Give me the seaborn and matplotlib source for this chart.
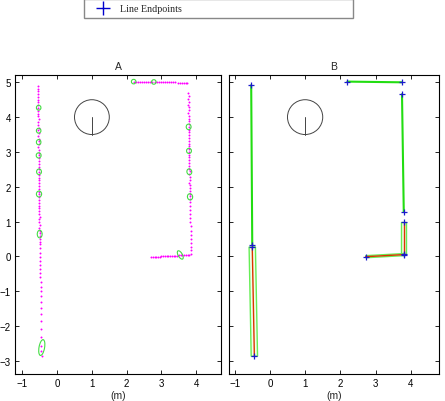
import numpy as np
import pandas as pd
import seaborn as sns
import matplotlib.pyplot as plt
from matplotlib.lines import Line2D
from matplotlib.patches import Ellipse, Circle, Polygon

# raw laser points, panel A (left wall, right wall, top wall, bottom wall)
left_y = [4.90, 4.82, 4.74, 4.66, 4.58, 4.50, 4.42, 4.34, 4.26, 4.18,
          4.10, 4.02, 3.94, 3.86, 3.78, 3.70, 3.62, 3.54, 3.46, 3.38,
          3.30, 3.22, 3.14, 3.06, 2.98, 2.90, 2.82, 2.74, 2.66, 2.58,
          2.50, 2.42, 2.34, 2.26, 2.18, 2.10, 2.02, 1.94, 1.86, 1.78,
          1.70, 1.62, 1.54, 1.46, 1.38, 1.30, 1.22, 1.14, 1.06, 0.98,
          0.90, 0.82, 0.74, 0.66, 0.58, 0.50, 0.42,
          0.35, 0.23, 0.11, -0.01, -0.13, -0.25, -0.36, -0.49, -0.60, -0.75,
          -0.87, -0.99, -1.13, -1.30, -1.47, -1.66, -1.85, -2.09, -2.33, -2.57,
          -2.71, -2.86]
left_x = [-0.55, -0.54, -0.55, -0.54, -0.55, -0.54, -0.54, -0.55, -0.54, -0.54,
          -0.54, -0.54, -0.53, -0.54, -0.54, -0.53, -0.54, -0.53, -0.54, -0.53,
          -0.53, -0.53, -0.54, -0.53, -0.53, -0.52, -0.53, -0.53, -0.52, -0.53,
          -0.52, -0.53, -0.52, -0.52, -0.53, -0.52, -0.52, -0.51, -0.52, -0.52,
          -0.51, -0.52, -0.51, -0.51, -0.52, -0.51, -0.51, -0.50, -0.51, -0.51,
          -0.50, -0.51, -0.50, -0.50, -0.50, -0.49, -0.50,
          -0.50, -0.49, -0.49, -0.49, -0.49, -0.48, -0.48, -0.48, -0.48, -0.47,
          -0.47, -0.47, -0.47, -0.46, -0.46, -0.46, -0.46, -0.45, -0.45, -0.45,
          -0.45, -0.44]

right_y = [4.68, 4.60, 4.52, 4.44, 4.36, 4.28, 4.20, 4.12, 4.04, 3.96,
           3.88, 3.80, 3.72, 3.64, 3.56, 3.48, 3.40, 3.32, 3.24, 3.16,
           3.08, 3.00, 2.92, 2.84, 2.76, 2.68, 2.60, 2.52, 2.44, 2.36,
           2.28, 2.20, 2.12, 2.04, 1.96, 1.88, 1.80, 1.72, 1.64, 1.56,
           1.45, 1.34, 1.22, 1.10, 0.98, 0.86, 0.74, 0.62, 0.50, 0.39,
           0.28, 0.17, 0.07]
right_x = [3.77, 3.78, 3.77, 3.78, 3.77, 3.78, 3.78, 3.77, 3.78, 3.78,
           3.78, 3.79, 3.78, 3.78, 3.79, 3.78, 3.79, 3.79, 3.78, 3.79,
           3.79, 3.80, 3.79, 3.80, 3.80, 3.79, 3.80, 3.80, 3.81, 3.80,
           3.81, 3.81, 3.80, 3.81, 3.81, 3.82, 3.81, 3.82, 3.82, 3.82,
           3.82, 3.83, 3.83, 3.83, 3.83, 3.84, 3.84, 3.84, 3.84, 3.85,
           3.85, 3.85, 3.85]

top_x = [2.20, 2.26, 2.32, 2.38, 2.44, 2.50, 2.56, 2.62, 2.68, 2.74,
         2.80, 2.86, 2.92, 2.98, 3.04, 3.10, 3.16, 3.22, 3.28, 3.34,
         3.40, 3.46, 3.52, 3.58, 3.64, 3.70, 3.74]
top_y = [5.02, 5.02, 5.02, 5.02, 5.02, 5.01, 5.01, 5.01, 5.01, 5.01,
         5.01, 5.01, 5.01, 5.00, 5.00, 5.00, 5.00, 5.00, 5.00, 5.00,
         5.00, 4.99, 4.99, 4.99, 4.99, 4.99, 4.99]

bottom_x = [2.70, 2.75, 2.80, 2.85, 2.90, 2.95, 3.00, 3.05, 3.10, 3.15, 3.20, 3.25,
            3.30, 3.35, 3.40, 3.45, 3.50, 3.55, 3.60, 3.65, 3.70, 3.75, 3.80]
bottom_y = [-0.02, -0.02, -0.01, -0.01, -0.01, -0.01, 0.00, 0.00, 0.00, 0.00, 0.01, 0.01,
            0.01, 0.02, 0.02, 0.02, 0.03, 0.03, 0.03, 0.04, 0.04, 0.04, 0.05]

# uncertainty ellipses (panel A)
ell_x = [-0.53, -0.53, -0.53, -0.53, -0.52, -0.52, -0.50, -0.44,
         3.78, 3.79, 3.80, 3.82, 2.20, 2.78, 3.54]
ell_y = [4.27, 3.61, 3.28, 2.90, 2.43, 1.79, 0.64, -2.62,
         3.72, 3.03, 2.43, 1.71, 5.02, 5.01, 0.04]
ell_w = [0.13, 0.13, 0.13, 0.14, 0.14, 0.15, 0.14, 0.16,
         0.14, 0.14, 0.14, 0.15, 0.13, 0.13, 0.27]
ell_h = [0.14, 0.14, 0.15, 0.15, 0.16, 0.17, 0.22, 0.46,
         0.16, 0.15, 0.17, 0.18, 0.13, 0.13, 0.12]
ell_ang = [0, 0, 0, 0, 0, 0, 0, -10, 0, 0, 10, 10, 0, 0, -60]

# fitted line segments (panel B)
seg_x0 = [-0.53, -0.50, 2.20, 3.75, 3.80, 2.72]
seg_y0 = [4.92, 0.27, 5.02, 4.66, 0.99, -0.01]
seg_x1 = [-0.50, -0.44, 3.75, 3.80, 3.80, 3.80]
seg_y1 = [0.32, -2.87, 5.00, 1.28, 0.07, 0.05]
seg_band = [0.0, 0.09, 0.0, 0.0, 0.065, 0.03]

robot = (1.0, 4.0, 0.5)

sns.set_theme(style='ticks')
plt.rcParams['font.family'] = ['Liberation Sans', 'DejaVu Sans']
plt.rcParams['xtick.direction'] = 'in'
plt.rcParams['ytick.direction'] = 'in'

fig = plt.figure(figsize=(4.45, 4.02), dpi=100)
axA = fig.add_axes([15 / 445, 1 - 375 / 402, 206 / 445, 299 / 402])
axB = fig.add_axes([229 / 445, 1 - 375 / 402, 210 / 445, 299 / 402])

magenta = '#ff00ff'
wall_x = left_x + right_x + top_x + bottom_x
wall_y = left_y + right_y + top_y + bottom_y
pts = pd.DataFrame({'x': wall_x, 'y': wall_y})
sns.scatterplot(data=pts, x='x', y='y', ax=axA, color=magenta, s=2,
                linewidth=0, legend=False)

for x, y, w, h, a in zip(ell_x, ell_y, ell_w, ell_h, ell_ang):
    axA.add_patch(Ellipse((x, y), w, h, angle=a, fill=False,
                          edgecolor='#44dd44', lw=0.8, zorder=3))

# panel B: bands, lines, endpoints
for x0, y0, x1, y1, b in zip(seg_x0, seg_y0, seg_x1, seg_y1, seg_band):
    if b > 0:
        d = np.array([x1 - x0, y1 - y0])
        n = np.array([-d[1], d[0]]) / np.hypot(*d) * b
        poly = [(x0 + n[0], y0 + n[1]), (x1 + n[0], y1 + n[1]),
                (x1 - n[0], y1 - n[1]), (x0 - n[0], y0 - n[1])]
        axB.add_patch(Polygon(poly, closed=True, facecolor='#f2ffe8',
                              edgecolor='#66ee55', lw=1.0, zorder=2))
        axB.plot([x0, x1], [y0, y1], color='#dd3300', lw=1.0, zorder=3)
    else:
        axB.plot([x0, x1], [y0, y1], color='#22dd11', lw=1.5, zorder=3)

ends = pd.DataFrame({'x': seg_x0 + seg_x1, 'y': seg_y0 + seg_y1})
axB.plot(ends['x'], ends['y'], ls='none', marker='+', color='#1a1acc',
         ms=5, mew=0.9, zorder=4)

for ax, title, xlim in [(axA, 'A', (-1.21, 4.71)), (axB, 'B', (-1.16, 4.80))]:
    cx, cy, r = robot
    ax.add_patch(Circle((cx, cy), r, fill=False, edgecolor='#444444', lw=0.7))
    ax.plot([cx, cx], [cy, cy - r], color='#444444', lw=0.7)
    ax.set_xlim(*xlim)
    ax.set_ylim(-3.38, 5.21)
    ax.set_xticks([-1, 0, 1, 2, 3, 4])
    ax.set_yticks([-3, -2, -1, 0, 1, 2, 3, 4, 5])
    ax.tick_params(axis='both', which='both', top=True, right=True,
                   direction='in', length=3, width=0.6, labelsize=7,
                   pad=3, colors='black')
    for s in ax.spines.values():
        s.set_linewidth(0.8)
        s.set_color('black')
    ax.set_title(title, fontsize=7.5, pad=4)
    ax.set_xlabel('(m)', fontsize=7.5, labelpad=1)
    ax.set_ylabel('')

axB.tick_params(labelleft=False)

handle = Line2D([], [], color='#0000cc', marker='+', ls='none', ms=10, mew=1)
fig.legend(handles=[handle], labels=['Line Endpoints'], loc='lower left',
           bbox_to_anchor=(84 / 445, 1 - 19 / 402, 269 / 445, 0.05),
           mode='expand', borderaxespad=0, frameon=True, fancybox=False,
           edgecolor='#888888', framealpha=1, borderpad=0.5,
           handlelength=2.8, handletextpad=0.3,
           prop={'family': 'Liberation Serif', 'size': 7.2})

fig.savefig('out.png', dpi=100)
